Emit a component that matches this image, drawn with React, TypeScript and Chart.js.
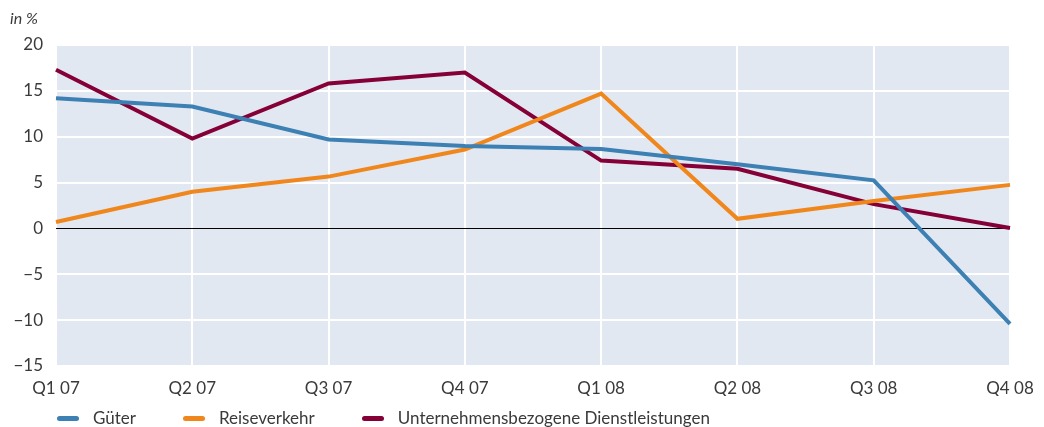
import React, { useEffect, useRef } from "react";
import { Chart, registerables } from "chart.js";

Chart.register(...registerables);

// Quarterly change, in percent
const quarters = ["Q1 07", "Q2 07", "Q3 07", "Q4 07", "Q1 08", "Q2 08", "Q3 08", "Q4 08"];
const gueter = [14.2, 13.3, 9.7, 9.0, 8.65, 7.0, 5.25, -10.4];
const reiseverkehr = [0.7, 4.0, 5.65, 8.6, 14.7, 1.05, 3.0, 4.75];
const dienstleistungen = [17.3, 9.8, 15.8, 17.0, 7.4, 6.5, 2.65, 0.05];
const yTicks = [-15, -10, -5, 0, 5, 10, 15, 20];

const seriesNames = ["Güter", "Reiseverkehr", "Unternehmensbezogene Dienstleistungen"];
const seriesColors = ["#3d80b3", "#f0871c", "#840037"];

const FONT = "Lato, 'Open Sans', sans-serif";
const TEXT = "#3a3a3a";
const PLOT_BG = "#e2e8f2";

const plotBackground = {
  id: "plotBackground",
  beforeDraw(chart: any) {
    const { ctx, chartArea } = chart;
    ctx.save();
    ctx.fillStyle = PLOT_BG;
    ctx.fillRect(chartArea.left, chartArea.top, chartArea.right - chartArea.left, chartArea.bottom - chartArea.top);
    ctx.restore();
  },
};

const unitLabel = {
  id: "unitLabel",
  afterDraw(chart: any) {
    const { ctx } = chart;
    ctx.save();
    ctx.font = `italic 16px ${FONT}`;
    ctx.fillStyle = TEXT;
    ctx.textBaseline = "middle";
    ctx.textAlign = "left";
    ctx.fillText("in %", 10, 19);
    ctx.restore();
  },
};

export default function App() {
  const canvasRef = useRef<HTMLCanvasElement | null>(null);

  useEffect(() => {
    if (!canvasRef.current) return;
    const values = [gueter, reiseverkehr, dienstleistungen];
    const chart = new Chart(canvasRef.current, {
      type: "line",
      data: {
        labels: quarters,
        datasets: values.map((data, i) => ({
          label: seriesNames[i],
          data,
          borderColor: seriesColors[i],
          backgroundColor: seriesColors[i],
          borderWidth: 4,
          pointRadius: 0,
          tension: 0,
          fill: false,
        })),
      },
      options: {
        animation: false,
        responsive: true,
        maintainAspectRatio: false,
        layout: { padding: { top: 45, right: 34, bottom: 31, left: 0 } },
        plugins: {
          legend: { display: false },
          tooltip: { enabled: false },
          title: { display: false },
        },
        scales: {
          x: {
            type: "category",
            offset: false,
            grid: {
              color: "#ffffff",
              lineWidth: 2,
              drawTicks: false,
            },
            border: { display: false },
            ticks: {
              padding: 12,
              color: TEXT,
              font: { family: FONT, size: 17 },
              maxRotation: 0,
              autoSkip: false,
            },
            afterFit(scale: any) {
              scale.height = 30;
              scale.paddingLeft = 0;
              scale.paddingRight = 0;
            },
          },
          y: {
            min: -15,
            max: 20,
            afterBuildTicks(scale: any) {
              scale.ticks = yTicks.map((v) => ({ value: v }));
            },
            grid: {
              color: (ctx: any) => (ctx.tick && ctx.tick.value === 0 ? "#000000" : "#ffffff"),
              lineWidth: (ctx: any) => (ctx.tick && ctx.tick.value === 0 ? 1 : 2),
              drawTicks: false,
            },
            border: { display: false },
            ticks: {
              padding: 13,
              color: TEXT,
              font: { family: FONT, size: 17 },
              callback: (v: any) => (Number(v) < 0 ? "\u2212" + Math.abs(Number(v)) : String(v)),
            },
            afterFit(scale: any) {
              scale.width = 56;
              scale.paddingTop = 0;
              scale.paddingBottom = 0;
            },
          },
        },
      },
      plugins: [plotBackground, unitLabel],
    });
    return () => chart.destroy();
  }, []);

  return (
    <div style={{ position: "fixed", left: 0, top: 0, width: 1044, height: 427, overflow: "hidden", background: "#fff" }}>
      <div style={{ position: "absolute", left: 0, top: 0, width: 1044, height: 427 }}>
        <canvas ref={canvasRef} />
      </div>
      <div
        style={{
          position: "absolute",
          left: 57,
          top: 408,
          display: "flex",
          alignItems: "center",
          gap: 47,
          fontFamily: FONT,
          fontSize: 17,
          color: TEXT,
          lineHeight: "20px",
          whiteSpace: "nowrap",
        }}
      >
        {seriesNames.map((name, i) => (
          <div key={name} style={{ display: "flex", alignItems: "center" }}>
            <span
              style={{
                display: "inline-block",
                width: 22,
                height: 5,
                borderRadius: 3,
                background: seriesColors[i],
                marginRight: 14,
              }}
            />
            <span>{name}</span>
          </div>
        ))}
      </div>
    </div>
  );
}
